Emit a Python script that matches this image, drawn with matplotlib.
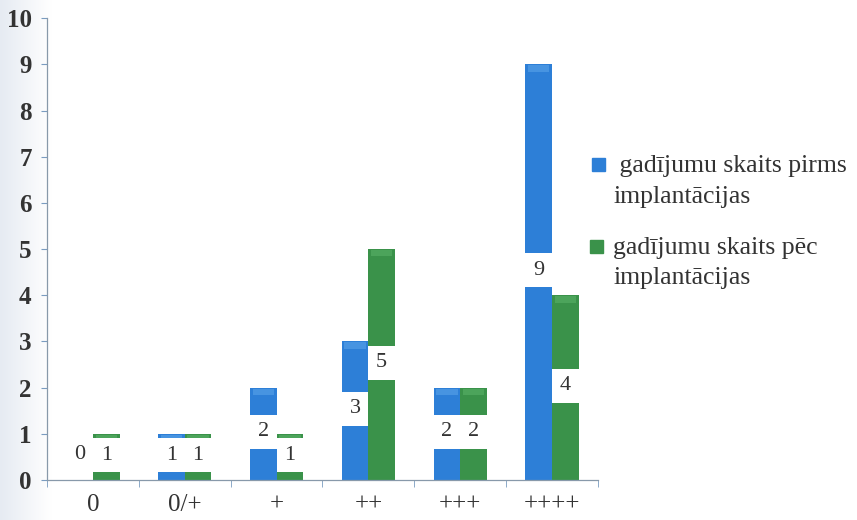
import matplotlib
matplotlib.use("Agg")
import matplotlib.pyplot as plt
from matplotlib.patches import Rectangle
import numpy as np

categories = ["0", "0/+", "+", "++", "+++", "++++"]
before = [0, 1, 2, 3, 2, 9]
after = [1, 1, 1, 5, 2, 4]
series_names = [" gadījumu skaits pirms\nimplantācijas", "gadījumu skaits pēc\nimplantācijas"]
yticks = list(range(0, 11))

blue = "#2d7fd7"
blue_cap = "#5ea6ea"
green = "#3a924a"
green_cap = "#5cb36a"
text_col = "#333333"
serif = ["Liberation Serif", "DejaVu Serif"]

plt.rcParams["font.family"] = serif

fig = plt.figure(figsize=(8.57, 5.2), dpi=100)

# faint shading along the left edge of the page
shade = fig.add_axes([0, 0, 0.06, 1], zorder=-5)
grad = np.linspace(0, 1, 64)[None, :]
shade.imshow(grad, aspect="auto", cmap=matplotlib.colors.LinearSegmentedColormap.from_list(
    "edge", ["#e6ebf2", "#ffffff"]), extent=[0, 1, 0, 1])
shade.axis("off")

ax = fig.add_axes([0.0548, 0.077, 0.643, 0.888])
ax.patch.set_alpha(0)

x = np.arange(len(categories))
w = 0.29
cap = 0.14
box_h = 0.74

for xs, vals, col, ccol in ((x - w / 2, before, blue, blue_cap),
                            (x + w / 2, after, green, green_cap)):
    vals = np.asarray(vals, dtype=float)
    ax.bar(xs, vals, w, color=col, zorder=2)
    # lighter rounded top of each bar
    has = vals > 0
    ax.bar(xs[has], np.full(has.sum(), cap), w * 0.8, bottom=vals[has] - cap - 0.02,
           color=ccol, zorder=2.5, alpha=0.55)
    # value labels in white boxes at mid-height of each bar
    for xi, v in zip(xs, vals):
        yl = v / 2 + 0.04 if v > 0 else 0.55
        ax.bar(xi, box_h, w, bottom=yl - box_h / 2, color="white", zorder=3)
        ax.text(xi, yl, f"{int(v)}", ha="center", va="center", fontsize=16,
                color=text_col, family=serif, zorder=4)

ax.set_xlim(-0.5, len(categories) - 0.5)
ax.set_ylim(0, 10)
ax.set_yticks(yticks)
ax.set_yticklabels([str(t) for t in yticks], fontsize=18, fontweight="bold",
                   color=text_col, family=serif)
ax.set_xticks(x)
ax.set_xticklabels(categories, fontsize=18, color=text_col, family=serif)
ax.set_xticks(np.arange(len(categories) + 1) - 0.5, minor=True)
ax.tick_params(axis="x", which="major", length=0, pad=10)
ax.tick_params(axis="x", which="minor", length=5, color="#7a9cc0", direction="out")
ax.tick_params(axis="y", length=4, color="#7a9cc0", direction="out", pad=7)

for s in ("top", "right"):
    ax.spines[s].set_visible(False)
for s in ("left", "bottom"):
    ax.spines[s].set_color("#8899aa")
    ax.spines[s].set_linewidth(0.9)

# legend: square key beside the first line of each two-line label
W, H = 857, 520
keys = [(592, 158, blue), (590, 240, green)]
for (kx, ky, col), name in zip(keys, series_names):
    fig.patches.append(Rectangle((kx / W, 1 - (ky + 13) / H), 13 / W, 13 / H,
                                 transform=fig.transFigure, color=col))
    fig.text(613 / W, 1 - (ky - 3) / H, name, ha="left", va="top", fontsize=18.5,
             color=text_col, family=serif, linespacing=1.5)

fig.savefig("out.png", dpi=100, facecolor="white")
